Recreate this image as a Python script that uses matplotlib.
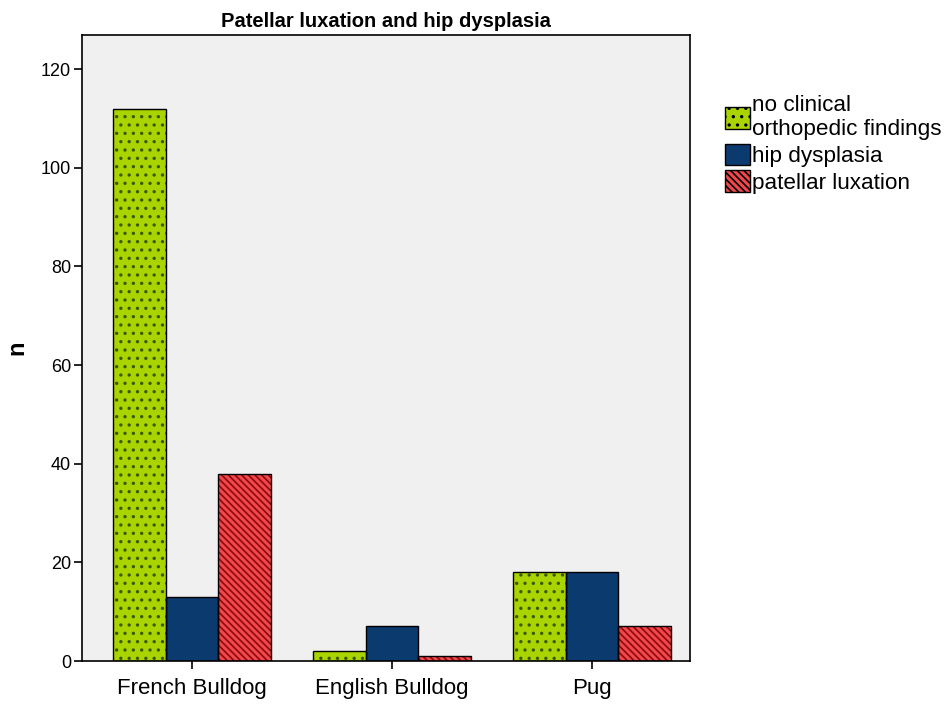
import matplotlib
matplotlib.use("Agg")
import matplotlib.pyplot as plt
import numpy as np
from matplotlib.patches import Patch

categories = ["French Bulldog", "English Bulldog", "Pug"]
series_names = ["no clinical\northopedic findings", "hip dysplasia", "patellar luxation"]
no_findings = [112, 2, 18]
hip_dysplasia = [13, 7, 18]
patellar_luxation = [38, 1, 7]
yticks = [0, 20, 40, 60, 80, 100, 120]

plt.rcParams['font.family'] = ['Liberation Sans', 'DejaVu Sans']
plt.rcParams['hatch.linewidth'] = 1.2

fig = plt.figure(figsize=(9.44, 7.04), dpi=100)
ax = fig.add_axes([82/944, 1 - 661/704, (690-82)/944, (661-35)/704])
ax.set_facecolor('#f0f0f0')

x = np.arange(len(categories))
w = 0.2625
styles = [
    dict(face='#aad400', hatchc='#3a5a00', hatch='..'),
    dict(face='#0b3a6f', hatchc='#0b3a6f', hatch=None),
    dict(face='#f2474b', hatchc='#8a0a10', hatch='\\\\\\\\\\'),
]
data = [no_findings, hip_dysplasia, patellar_luxation]
for i, (vals, st) in enumerate(zip(data, styles)):
    pos = x + (i - 1) * w
    ax.bar(pos, vals, w, color=st['face'], edgecolor=st['hatchc'], hatch=st['hatch'], linewidth=0, zorder=2)
    ax.bar(pos, vals, w, fill=False, edgecolor='black', linewidth=1, zorder=3)

ax.set_xlim(-0.55, 2.49)
ax.set_ylim(0, 126.9)
ax.set_yticks(yticks)
ax.set_xticks(x)
ax.set_xticklabels(categories, fontsize=16)
ax.tick_params(axis='y', labelsize=13, length=6, width=1.2, color='black', pad=2)
ax.tick_params(axis='x', length=6, width=1.2, pad=6)
for s in ax.spines.values():
    s.set_linewidth(1.2)
ax.set_ylabel('n', fontsize=17, fontweight='bold')
ax.yaxis.set_label_coords(-0.088, 0.5)
ax.set_title('Patellar luxation and hip dysplasia', fontsize=14.5, fontweight='bold', pad=6)

handles = [Patch(facecolor=st['face'], edgecolor='black', hatch=st['hatch'], linewidth=1) for st in styles]
leg = fig.legend(handles, series_names, loc='upper left', bbox_to_anchor=(716/944, 1 - 86/704),
                 frameon=False, fontsize=16.2, handlelength=1.1, handleheight=1.1,
                 handletextpad=0.1, labelspacing=0.15, borderaxespad=0)

fig.savefig('out.png', dpi=100, facecolor='white')
